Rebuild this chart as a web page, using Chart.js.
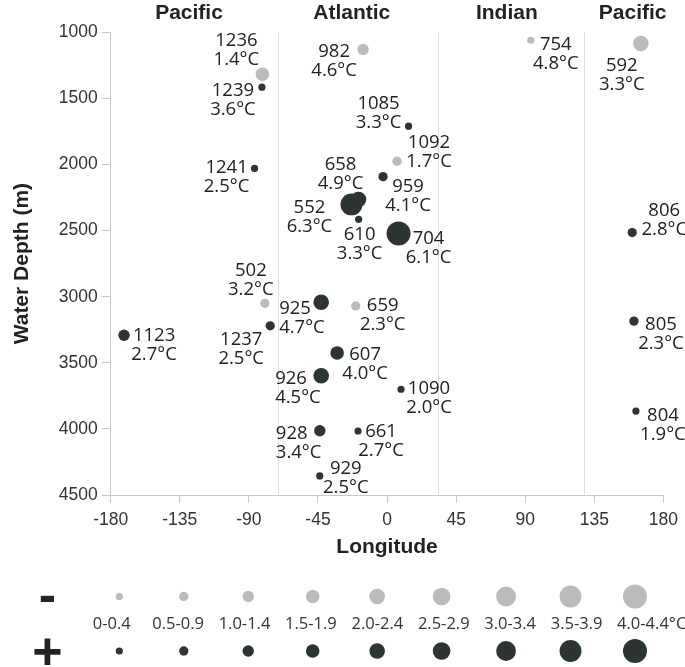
<!DOCTYPE html>
<html>
<head>
<meta charset="utf-8">
<script src="https://cdn.jsdelivr.net/npm/chart.js@4.4.1/dist/chart.umd.min.js"></script>
<style>
  html, body { margin: 0; padding: 0; background: #fff; }
  #wrap { position: relative; width: 685px; height: 667px; overflow: hidden; }
  #main { position: absolute; left: 0; top: 0; }
  #key { position: absolute; left: 0; top: 570px; }
</style>
</head>
<body>
<div id="wrap">
  <canvas id="main" width="685" height="570"></canvas>
  <canvas id="key" width="685" height="97"></canvas>
</div>
<script>
// Drill sites: longitude (deg E), water depth (m), bottom-water temperature (°C)
// and the signed change that sets each dot's size and shade.
const sites      = ['1236','1239','982','1085','1092','1241','658','959','552','610','704','754','592','806','502','925','659','1237','1123','607','926','1090','928','661','929','805','804'];
const longitude  = [-81.2, -81.5, -15.6, 14.0, 6.5, -86.3, -18.6, -2.6, -23.2, -18.5, 7.5, 93.6, 165.3, 159.7, -79.6, -42.9, -20.4, -76.1, -171.3, -32.5, -42.9, 9.1, -43.8, -18.9, -43.8, 160.8, 162.1];
const waterDepth = [1318, 1415, 1130, 1710, 1975, 2030, 2265, 2092, 2302, 2415, 2522, 1060, 1085, 2515, 3050, 3042, 3070, 3220, 3292, 3425, 3598, 3700, 4014, 4016, 4356, 3185, 3865];
const bottomTemp = [1.4, 3.6, 4.6, 3.3, 1.7, 2.5, 4.9, 4.1, 6.3, 3.3, 6.1, 4.8, 3.3, 2.8, 3.2, 4.7, 2.3, 2.5, 2.7, 4.0, 4.5, 2.0, 3.4, 2.7, 2.5, 2.3, 1.9];
const change     = [-1.7, 0.2, -1.2, 0.2, -0.7, 0.2, 2.2, 0.7, 3.7, 0.2, 4.2, -0.2, -2.2, 0.7, -0.7, 2.2, -0.7, 0.7, 1.2, 1.7, 2.2, 0.2, 1.2, 0.2, 0.2, 0.7, 0.2];

const xTicks = [-180, -135, -90, -45, 0, 45, 90, 135, 180];
const yTicks = [1000, 1500, 2000, 2500, 3000, 3500, 4000, 4500];

const basinNames    = ['Pacific', 'Atlantic', 'Indian', 'Pacific'];
const basinLabelLon = [-129, -23, 78, 160];
const basinBounds   = [-71, 33, 128];

const sizeBins = ['0-0.4', '0.5-0.9', '1.0-1.4', '1.5-1.9', '2.0-2.4', '2.5-2.9', '3.0-3.4', '3.5-3.9', '4.0-4.4'];

// ---- styling ----
const GRAY = '#bbbbbb';
const DARK = '#2c3533';
const AXIS = '#c9c9c9';
const DIVIDER = '#dedede';
const INK = '#222222';
const SANS = '"Liberation Sans", Arial, Helvetica, sans-serif';
const LABEL_FONT = '"Open Sans", "Noto Sans", sans-serif';

// dot radius grows one step per 0.5 °C bin
function radiusFor(v) {
  const bin = Math.min(8, Math.floor(Math.abs(v) / 0.5 + 1e-6));
  return 3.6 + 1.05 * bin;
}

// where each site's two-line label sits relative to its dot: [dx, dy of first baseline, align]
const labelSpots = {
  '1236': [-26, -28, 'center'], '1239': [-29, 9, 'center'], '982': [-29, 8, 'center'],
  '1085': [-30, -17, 'center'], '1092': [32, -13, 'center'], '1241': [-28, 5, 'center'],
  '658': [-18, -30, 'center'], '959': [25, 15, 'center'], '552': [-42, 9, 'center'],
  '610': [1, 21, 'center'], '704': [30, 10, 'center'], '754': [25, 10, 'center'],
  '592': [-19, 27, 'center'], '806': [32, -17, 'center'], '502': [-14, -27, 'center'],
  '925': [-42, 12, 'left'], '659': [27, 5, 'center'], '1237': [-29, 19, 'center'],
  '1123': [30, 6, 'center'], '607': [28, 7, 'center'], '926': [-46, 8, 'left'],
  '1090': [28, 5, 'center'], '928': [-44, 8, 'left'], '661': [23, 6, 'center'],
  '929': [26, -2, 'center'], '805': [27, 9, 'center'], '804': [27, 10, 'center']
};

const points = sites.map((s, i) => ({ x: longitude[i], y: waterDepth[i], site: s, temp: bottomTemp[i], d: change[i] }));
const cooler = points.filter(p => p.d < 0);
const warmer = points.filter(p => p.d >= 0);

// ocean basin dividers and names
const basinPlugin = {
  id: 'basins',
  beforeDatasetsDraw(chart) {
    const { ctx, chartArea, scales: { x } } = chart;
    ctx.save();
    ctx.strokeStyle = DIVIDER;
    ctx.lineWidth = 1;
    basinBounds.forEach(b => {
      const px = Math.round(x.getPixelForValue(b)) + 0.5;
      ctx.beginPath();
      ctx.moveTo(px, chartArea.top);
      ctx.lineTo(px, chartArea.bottom);
      ctx.stroke();
    });
    ctx.fillStyle = INK;
    ctx.font = 'bold 21px ' + SANS;
    ctx.textAlign = 'center';
    ctx.textBaseline = 'alphabetic';
    basinNames.forEach((n, i) => {
      ctx.fillText(n, x.getPixelForValue(basinLabelLon[i]), chartArea.top - 13);
    });
    ctx.restore();
  }
};

// site number and temperature next to every dot
const siteLabelPlugin = {
  id: 'siteLabels',
  afterDatasetsDraw(chart) {
    const { ctx, scales: { x, y } } = chart;
    ctx.save();
    ctx.fillStyle = INK;
    ctx.font = '18.5px ' + LABEL_FONT;
    ctx.textBaseline = 'alphabetic';
    points.forEach(p => {
      const [dx, dy, align] = labelSpots[p.site];
      const px = x.getPixelForValue(p.x) + dx;
      const py = y.getPixelForValue(p.y) + dy;
      ctx.textAlign = align;
      ctx.fillText(p.site, px, py);
      ctx.fillText(p.temp.toFixed(1) + '°C', px, py + 19);
    });
    ctx.restore();
  }
};

new Chart(document.getElementById('main'), {
  type: 'scatter',
  data: {
    datasets: [
      { label: '-', data: cooler, pointRadius: cooler.map(p => radiusFor(p.d)), pointHoverRadius: cooler.map(p => radiusFor(p.d)),
        backgroundColor: GRAY, borderWidth: 0, pointBorderWidth: 0 },
      { label: '+', data: warmer, pointRadius: warmer.map(p => radiusFor(p.d)), pointHoverRadius: warmer.map(p => radiusFor(p.d)),
        backgroundColor: DARK, borderWidth: 0, pointBorderWidth: 0 }
    ]
  },
  options: {
    responsive: false,
    devicePixelRatio: 1,
    animation: false,
    events: [],
    layout: { autoPadding: false, padding: { left: 0, right: 21.3, top: 32.3, bottom: 0 } },
    plugins: { legend: { display: false }, tooltip: { enabled: false } },
    scales: {
      x: {
        type: 'linear', min: -180, max: 180,
        afterBuildTicks: s => { s.ticks = xTicks.map(v => ({ value: v })); },
        afterFit: s => { s.height = 75; },
        ticks: { color: '#333', font: { family: SANS, size: 17.5 }, padding: 7, maxRotation: 0, autoSkip: false,
                 callback: v => String(v) },
        grid: { drawOnChartArea: false, drawTicks: true, tickLength: 8, color: AXIS, lineWidth: 1 },
        border: { display: true, color: AXIS, width: 1 },
        title: { display: true, text: 'Longitude', color: INK, font: { family: SANS, size: 21, weight: 'bold' },
                 padding: { top: 0, bottom: 10 } }
      },
      y: {
        type: 'linear', reverse: true, min: 1000, max: 4500,
        afterBuildTicks: s => { s.ticks = yTicks.map(v => ({ value: v })); },
        afterFit: s => { s.width = 110.7; },
        ticks: { color: '#333', font: { family: SANS, size: 17.5 }, padding: 4, autoSkip: false,
                 callback: v => String(v) },
        grid: { drawOnChartArea: false, drawTicks: true, tickLength: 9, color: AXIS, lineWidth: 1 },
        border: { display: true, color: AXIS, width: 1 },
        title: { display: true, text: 'Water Depth (m)', color: INK, font: { family: SANS, size: 21, weight: 'bold' },
                 padding: { top: 10, bottom: 0 } }
      }
    }
  },
  plugins: [basinPlugin, siteLabelPlugin]
});

// ---- size key: cooling (-) row above, warming (+) row below ----
const keyTextPlugin = {
  id: 'keyText',
  afterDatasetsDraw(chart) {
    const { ctx, scales: { xl, y } } = chart;
    ctx.save();
    ctx.fillStyle = '#333';
    ctx.font = '16.5px ' + LABEL_FONT;
    ctx.textBaseline = 'middle';
    const ly = y.getPixelForValue(0.5) + 1;
    sizeBins.forEach((b, i) => {
      const cx = xl.getPixelForValue(i);
      if (i === sizeBins.length - 1) {
        const w = ctx.measureText(b).width;
        ctx.textAlign = 'left';
        ctx.fillText(b + '°C', cx - w / 2, ly);
      } else {
        ctx.textAlign = 'center';
        ctx.fillText(b, cx, ly);
      }
    });
    ctx.fillStyle = '#1f2624';
    ctx.font = 'bold 52px ' + SANS;
    ctx.textAlign = 'center';
    ctx.textBaseline = 'alphabetic';
    ctx.fillText('-', 47.5, y.getPixelForValue(1) + 16);
    ctx.fillText('+', 47.5, y.getPixelForValue(0) + 18);
    ctx.restore();
  }
};

const keyRadii = sizeBins.map((b, i) => radiusFor(i * 0.5 + 0.2));
new Chart(document.getElementById('key'), {
  type: 'scatter',
  data: {
    datasets: [
      { data: sizeBins.map((b, i) => ({ x: i, y: 1 })), pointRadius: keyRadii, backgroundColor: GRAY, borderWidth: 0 },
      { data: sizeBins.map((b, i) => ({ x: i, y: 0 })), pointRadius: keyRadii, backgroundColor: DARK, borderWidth: 0 }
    ]
  },
  options: {
    responsive: false,
    devicePixelRatio: 1,
    animation: false,
    events: [],
    layout: { autoPadding: false, padding: 0 },
    plugins: { legend: { display: false }, tooltip: { enabled: false } },
    scales: {
      x:  { type: 'linear', display: false, min: -1.851, max: 8.776 },
      xl: { type: 'linear', axis: 'x', display: false, min: -1.682, max: 8.633 },
      y:  { type: 'linear', display: false, min: -0.2936, max: 1.486 }
    }
  },
  plugins: [keyTextPlugin]
});
</script>
</body>
</html>
